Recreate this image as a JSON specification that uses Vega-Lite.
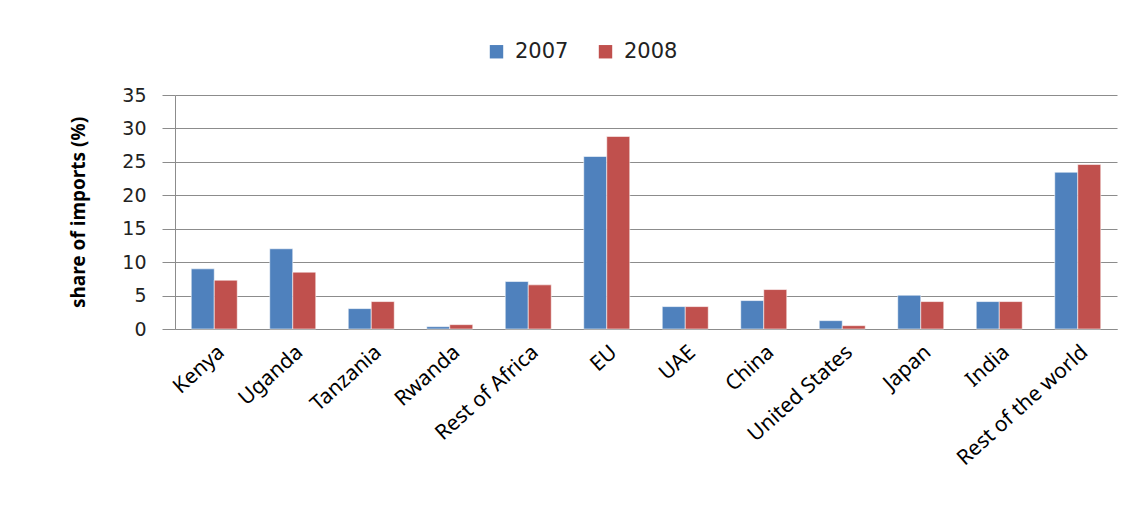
{
  "$schema": "https://vega.github.io/schema/vega-lite/v6.json",
  "width": 942,
  "height": 234,
  "autosize": {"type": "none"},
  "padding": {"left": 175, "top": 95, "right": 20, "bottom": 177},
  "background": "white",
  "data": {
    "values": [
      {"region": "Kenya", "year": "2007", "share": 9.0},
      {"region": "Kenya", "year": "2008", "share": 7.3},
      {"region": "Uganda", "year": "2007", "share": 12.0},
      {"region": "Uganda", "year": "2008", "share": 8.5},
      {"region": "Tanzania", "year": "2007", "share": 3.05},
      {"region": "Tanzania", "year": "2008", "share": 4.1},
      {"region": "Rwanda", "year": "2007", "share": 0.35},
      {"region": "Rwanda", "year": "2008", "share": 0.65},
      {"region": "Rest of Africa", "year": "2007", "share": 7.1},
      {"region": "Rest of Africa", "year": "2008", "share": 6.6},
      {"region": "EU", "year": "2007", "share": 25.8},
      {"region": "EU", "year": "2008", "share": 28.8},
      {"region": "UAE", "year": "2007", "share": 3.35},
      {"region": "UAE", "year": "2008", "share": 3.35},
      {"region": "China", "year": "2007", "share": 4.25},
      {"region": "China", "year": "2008", "share": 5.9},
      {"region": "United States", "year": "2007", "share": 1.25},
      {"region": "United States", "year": "2008", "share": 0.5},
      {"region": "Japan", "year": "2007", "share": 5.05},
      {"region": "Japan", "year": "2008", "share": 4.1},
      {"region": "India", "year": "2007", "share": 4.1},
      {"region": "India", "year": "2008", "share": 4.1},
      {"region": "Rest of the world", "year": "2007", "share": 23.45},
      {"region": "Rest of the world", "year": "2008", "share": 24.6}
    ]
  },
  "mark": {"type": "bar", "stroke": "#ffffff", "strokeWidth": 0.8, "strokeOpacity": 0.7},
  "encoding": {
    "x": {
      "field": "region",
      "type": "nominal",
      "sort": null,
      "scale": {"paddingInner": 0.414, "paddingOuter": 0.207},
      "axis": {
        "title": null,
        "labelAngle": -42,
        "labelFont": "Noto Sans",
        "labelFontSize": 21,
        "labelColor": "#000000",
        "ticks": false,
        "domainColor": "#8c8c8c",
        "labelPadding": 12,
        "labelLimit": 300
      }
    },
    "xOffset": {"field": "year", "type": "nominal"},
    "y": {
      "field": "share",
      "type": "quantitative",
      "scale": {"domain": [0, 35], "nice": false},
      "axis": {
        "values": [0, 5, 10, 15, 20, 25, 30, 35],
        "title": "share of imports (%)",
        "titleFont": "Noto Sans",
        "titleFontSize": 19,
        "titleFontWeight": "bold",
        "titleColor": "#000000",
        "titlePadding": 33,
        "labelFont": "DejaVu Sans",
        "labelFontSize": 19,
        "labelColor": "#222222",
        "labelPadding": 16,
        "tickSize": 13,
        "tickColor": "#8c8c8c",
        "domainColor": "#8c8c8c",
        "gridColor": "#8c8c8c",
        "gridOpacity": 1
      }
    },
    "color": {
      "field": "year",
      "type": "nominal",
      "scale": {"range": ["#4F81BD", "#C0504D"]},
      "legend": {
        "title": null,
        "orient": "none",
        "direction": "horizontal",
        "legendX": 311,
        "legendY": -54,
        "symbolType": "square",
        "symbolSize": 180,
        "symbolStrokeWidth": 0,
        "symbolOpacity": 1,
        "labelFont": "DejaVu Sans",
        "labelFontSize": 21,
        "labelColor": "#222222",
        "labelOffset": 8,
        "columnPadding": 26,
        "padding": 0
      }
    }
  },
  "config": {"view": {"stroke": null}}
}
